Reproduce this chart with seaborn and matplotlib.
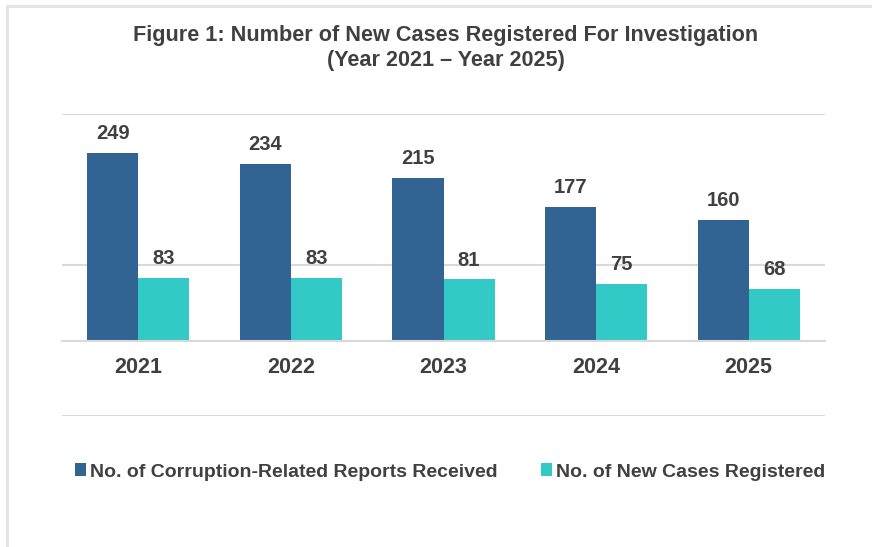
import numpy as np
import matplotlib.pyplot as plt
import matplotlib.lines as mlines
import pandas as pd
import seaborn as sns

years = ["2021", "2022", "2023", "2024", "2025"]
reports = [249, 234, 215, 177, 160]
cases = [83, 83, 81, 75, 68]
seriesNames = ["No. of Corruption-Related Reports Received", "No. of New Cases Registered"]
seriesColors = ["#316393", "#33C9C6"]

titleText = "Figure 1: Number of New Cases Registered For Investigation\n(Year 2021 \u2013 Year 2025)"

textColor = "#404040"
gridColor = "#d9d9d9"

df = pd.DataFrame({
    "year": years * 2,
    "count": reports + cases,
    "series": [seriesNames[0]] * len(years) + [seriesNames[1]] * len(years),
})

sns.set_style("white")
plt.rcParams["font.family"] = ["Liberation Sans", "DejaVu Sans"]

fig = plt.figure(figsize=(8.72, 5.47), dpi=100)
ax = fig.add_axes([62 / 872, 1 - 416 / 547, (825 - 62) / 872, (416 - 114) / 547])

sns.barplot(data=df, x="year", y="count", hue="series", order=years,
            hue_order=seriesNames, palette=seriesColors, width=0.67,
            saturation=1, linewidth=0, ax=ax, legend=True)

for container in ax.containers:
    ax.bar_label(container, padding=7, fontsize=14.5, fontweight="bold", color=textColor)

ax.set_xlim(-0.5, len(years) - 0.5)
ax.set_ylim(-100, 300)
ax.set_yticks([-100, 100, 300])
ax.set_yticklabels([])
ax.tick_params(axis="y", length=0)
ax.yaxis.grid(True, color=gridColor, linewidth=1.5)
ax.set_axisbelow(True)

for side in ["top", "right", "left"]:
    ax.spines[side].set_visible(False)
ax.spines["bottom"].set_position(("data", 0))
ax.spines["bottom"].set_color(gridColor)
ax.spines["bottom"].set_linewidth(1.5)

ax.set_xticks(np.arange(-0.5, len(years)), minor=True)
ax.tick_params(axis="x", which="minor", length=6, width=1.5, color=gridColor, direction="out")
ax.tick_params(axis="x", which="major", length=0, pad=12, labelsize=15.5, labelcolor=textColor)
for lbl in ax.get_xticklabels():
    lbl.set_fontweight("bold")

ax.set_xlabel("")
ax.set_ylabel("")

handles, labels = ax.get_legend_handles_labels()
ax.get_legend().remove()
fig.legend(handles, labels, loc="center", bbox_to_anchor=(450 / 872, 1 - 472 / 547),
           ncol=2, frameon=False, handlelength=0.6, handleheight=0.6, handletextpad=0.2,
           columnspacing=2.2, prop={"size": 14, "weight": "bold"}, labelcolor=textColor)

fig.text(446 / 872, 1 - 48 / 547, titleText, ha="center", va="center", fontsize=15.6,
         fontweight="bold", color=textColor, linespacing=1.2)

# chart area border (top and left edges only)
fig.add_artist(mlines.Line2D([7 / 872, 1], [1 - 6 / 547, 1 - 6 / 547], color="#e3e3e3", linewidth=2,
                             transform=fig.transFigure))
fig.add_artist(mlines.Line2D([7 / 872, 7 / 872], [0, 1 - 6 / 547], color="#e3e3e3", linewidth=2,
                             transform=fig.transFigure))

fig.savefig("out.png", dpi=100)
